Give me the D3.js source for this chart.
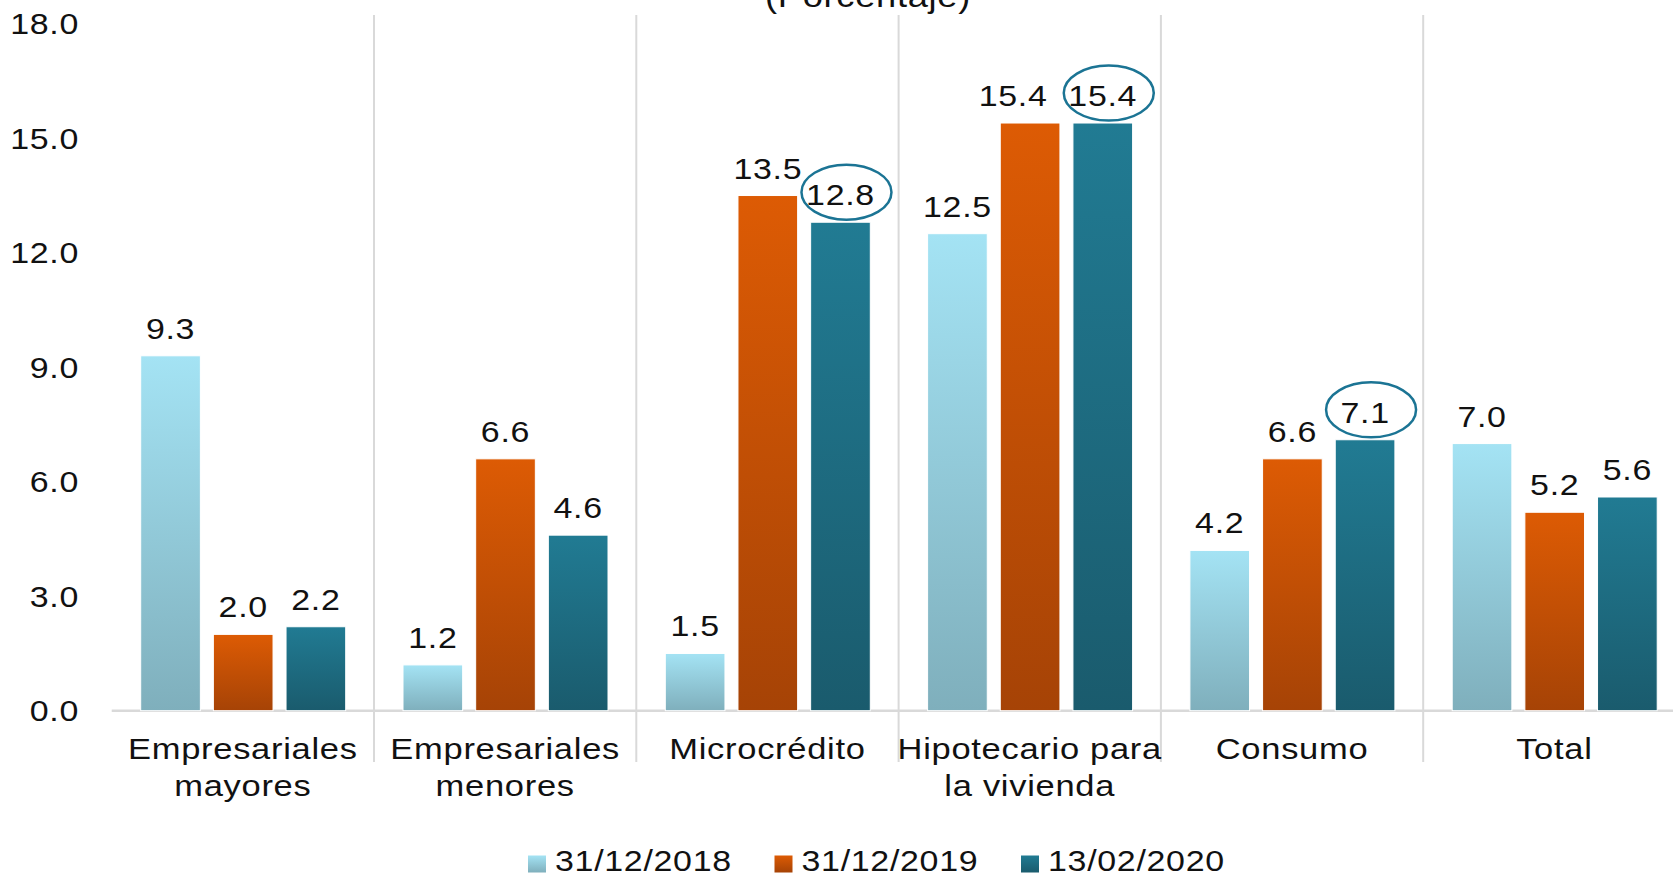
<!DOCTYPE html>
<html>
<head>
<meta charset="utf-8">
<script src="https://cdn.jsdelivr.net/npm/d3@7"></script>
<style>
  html, body { margin: 0; padding: 0; background: #ffffff; }
  svg { display: block; }
  text { font-family: "Liberation Sans", Arial, sans-serif; fill: #111111; letter-spacing: 0.6px; }
</style>
</head>
<body>
<svg id="chart" width="1673" height="876"></svg>
<script>
// Category labels (one entry per line of text)
const categories = ["Empresariales mayores", "Empresariales menores", "Microcrédito",
                    "Hipotecario para la vivienda", "Consumo", "Total"];
const categoryLines = [["Empresariales", "mayores"], ["Empresariales", "menores"], ["Microcrédito"],
                       ["Hipotecario para", "la vivienda"], ["Consumo"], ["Total"]];
const seriesNames = ["31/12/2018", "31/12/2019", "13/02/2020"];
const values2018 = [9.3, 1.2, 1.5, 12.5, 4.2, 7.0];
const values2019 = [2.0, 6.6, 13.5, 15.4, 6.6, 5.2];
const values2020 = [2.2, 4.6, 12.8, 15.4, 7.1, 5.6];
const highlighted2020 = ["Microcrédito", "Hipotecario para la vivienda", "Consumo"];
const yTicks = [0, 3, 6, 9, 12, 15, 18];
const title = "(Porcentaje)";

const seriesValues = [values2018, values2019, values2020];
const gradients = [
  { id: "g2018", top: "#a4e3f4", bottom: "#7fafbc" },
  { id: "g2019", top: "#dd5b04", bottom: "#a64306" },
  { id: "g2020", top: "#217b93", bottom: "#1a5b6d" }
];

const svg = d3.select("#chart");
const stretch = 1.17;

// Horizontally widened text, positioned via transform
function stretchedText(sel, x, y) {
  return sel.attr("transform", `translate(${x},${y}) scale(${stretch},1)`);
}

const defs = svg.append("defs");
gradients.forEach(g => {
  const lg = defs.append("linearGradient").attr("id", g.id)
    .attr("x1", 0).attr("y1", 0).attr("x2", 0).attr("y2", 1);
  lg.append("stop").attr("offset", "0%").attr("stop-color", g.top);
  lg.append("stop").attr("offset", "100%").attr("stop-color", g.bottom);
});

const left = 111.7, band = 262.3;
const x = d3.scaleBand().domain(categories).range([left, left + band * categories.length]).padding(0);
const xs = d3.scaleBand().domain(seriesNames).range([29, 234]).paddingInner(0.179).paddingOuter(0);
const y = d3.scaleLinear().domain([0, 18]).range([710.7, 23.8]);

// Title (partly above the visible area)
stretchedText(svg.append("text"), 868, 7)
  .attr("text-anchor", "middle").style("font-size", "31px").text(title);

// Category separators
const sepColor = "#d9d9d9";
svg.append("g").selectAll("line")
  .data(categories.slice(1))
  .join("line")
  .attr("x1", d => x(d)).attr("x2", d => x(d))
  .attr("y1", 15).attr("y2", 762)
  .attr("stroke", sepColor).attr("stroke-width", 2);

// Baseline
svg.append("line")
  .attr("x1", left).attr("x2", 1673)
  .attr("y1", y(0)).attr("y2", y(0))
  .attr("stroke", sepColor).attr("stroke-width", 2.5);

// Y tick labels
const yg = svg.append("g");
yTicks.forEach(t => {
  stretchedText(yg.append("text"), 79, y(t))
    .attr("text-anchor", "end").attr("dy", "0.36em")
    .style("font-size", "29px").text(d3.format(".1f")(t));
});

// Bars
const barData = [];
categories.forEach((c, ci) => {
  seriesNames.forEach((s, si) => {
    barData.push({ cat: c, ci, series: s, si, value: seriesValues[si][ci] });
  });
});

svg.append("g").selectAll("rect")
  .data(barData)
  .join("rect")
  .attr("x", d => x(d.cat) + xs(d.series))
  .attr("y", d => y(d.value))
  .attr("width", xs.bandwidth())
  .attr("height", d => y(0) - y(d.value))
  .attr("fill", d => `url(#${gradients[d.si].id})`)
  .attr("stroke", "#ffffff").attr("stroke-width", 1);

// Value labels; a label whose circled neighbour sits at the same height is nudged left
const lg = svg.append("g");
barData.forEach(d => {
  let cx = x(d.cat) + xs(d.series) + xs.bandwidth() / 2;
  const by = y(d.value) - 17;
  const isCircled = d.si === 2 && highlighted2020.includes(d.cat);
  if (d.si === 1 && highlighted2020.includes(d.cat)) {
    const nextY = y(values2020[d.ci]) - 17;
    if (Math.abs(nextY - by) < 8) cx -= 17;
  }
  stretchedText(lg.append("text"), cx, by)
    .attr("text-anchor", "middle").style("font-size", "29px")
    .text(d3.format(".1f")(d.value));
  if (isCircled) {
    lg.append("ellipse")
      .attr("cx", cx + 6).attr("cy", by - 13)
      .attr("rx", 45).attr("ry", 27.5)
      .attr("fill", "none").attr("stroke", "#1b7494").attr("stroke-width", 2.5);
  }
});

// Category labels
const cg = svg.append("g");
categories.forEach((c, ci) => {
  categoryLines[ci].forEach((line, li) => {
    stretchedText(cg.append("text"), x(c) + band / 2, 759 + li * 37)
      .attr("text-anchor", "middle").style("font-size", "29.5px").text(line);
  });
});

// Legend
const legendX = [528, 774.5, 1021];
const leg = svg.append("g");
seriesNames.forEach((s, i) => {
  leg.append("rect")
    .attr("x", legendX[i]).attr("y", 855.5)
    .attr("width", 18).attr("height", 17)
    .attr("fill", `url(#${gradients[i].id})`);
  stretchedText(leg.append("text"), legendX[i] + 27, 871)
    .style("font-size", "29px").text(s);
});
</script>
</body>
</html>
